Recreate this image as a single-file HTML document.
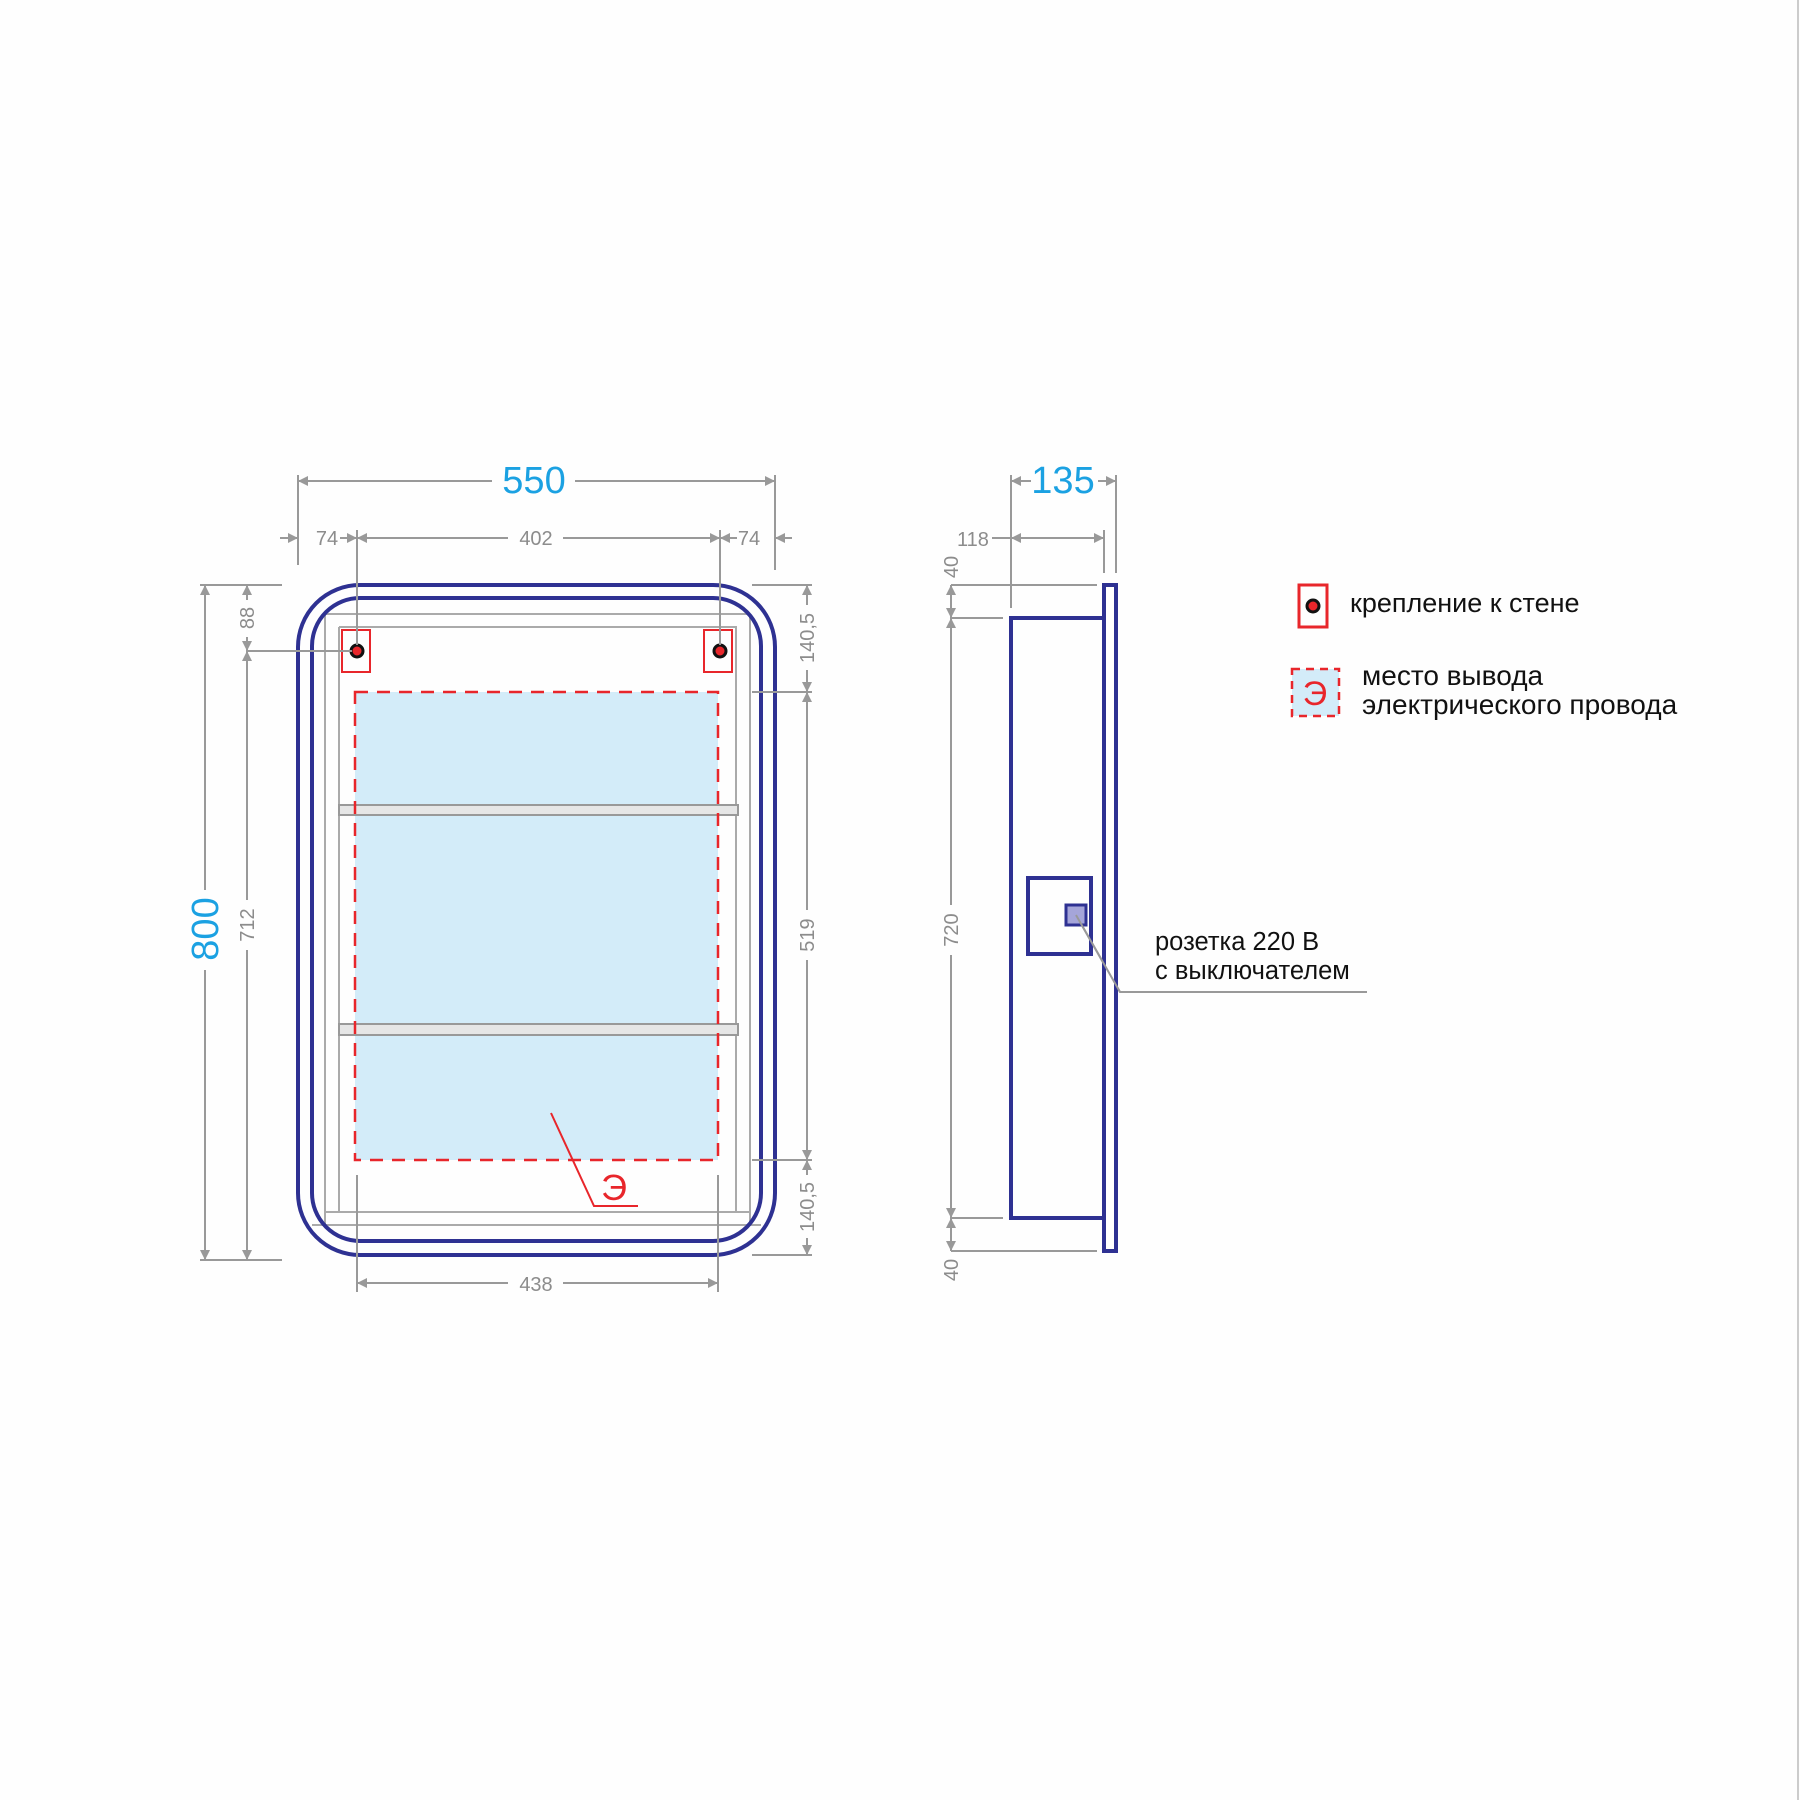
<!DOCTYPE html>
<html><head><meta charset="utf-8"><style>
html,body{margin:0;padding:0;background:#fff}
svg{display:block}
text{font-family:"Liberation Sans",sans-serif}
</style></head><body>
<svg width="1800" height="1800" viewBox="0 0 1800 1800" xmlns="http://www.w3.org/2000/svg">
<defs>
<marker id="a" viewBox="0 0 10 10" refX="10" refY="5" markerWidth="16" markerHeight="10" markerUnits="userSpaceOnUse" orient="auto-start-reverse"><path d="M0,0L10,5L0,10z" fill="#999"/></marker>
</defs>
<rect width="1800" height="1800" fill="#fefefe"/>
<line x1="1798" y1="0" x2="1798" y2="1800" stroke="#ccc" stroke-width="2"/>

<rect x="355" y="692" width="363" height="468" fill="#d3ecf9"/>
<g stroke="#aaa" stroke-width="2" fill="none">
<line x1="325" y1="614" x2="750" y2="614"/>
<line x1="339" y1="627" x2="737" y2="627"/>
<line x1="325" y1="1212" x2="750" y2="1212"/>
<line x1="312" y1="1225" x2="761" y2="1225"/>
<line x1="325" y1="614" x2="325" y2="1225"/>
<line x1="339" y1="627" x2="339" y2="1212"/>
<line x1="736" y1="627" x2="736" y2="1212"/>
<line x1="750" y1="614" x2="750" y2="1225"/>
</g>
<rect x="339" y="805" width="399" height="10" fill="#e6e6e6" stroke="#999" stroke-width="2"/>
<rect x="339" y="1024" width="399" height="11" fill="#e6e6e6" stroke="#999" stroke-width="2"/>
<rect x="355" y="692" width="363" height="468" fill="none" stroke="#e8262b" stroke-width="2.5" stroke-dasharray="13 9"/>
<rect x="298" y="585" width="477" height="670" rx="62" fill="none" stroke="#2e3192" stroke-width="4"/>
<rect x="312" y="598" width="449" height="643" rx="48" fill="none" stroke="#2e3192" stroke-width="4"/>

<rect x="342" y="630" width="28" height="42" fill="none" stroke="#e8262b" stroke-width="2"/>
<rect x="704" y="630" width="28" height="42" fill="none" stroke="#e8262b" stroke-width="2"/>
<circle cx="357" cy="651" r="6" fill="#e8262b" stroke="#111" stroke-width="3"/>
<circle cx="720" cy="651" r="6" fill="#e8262b" stroke="#111" stroke-width="3"/>

<polyline points="551,1113 594,1206 638,1206" fill="none" stroke="#e8262b" stroke-width="2"/>
<text x="614" y="1200" font-size="36" fill="#e8262b" text-anchor="middle">Э</text>

<g stroke="#999" stroke-width="2" fill="none">
<line x1="298" y1="475" x2="298" y2="565"/>
<line x1="775" y1="475" x2="775" y2="570"/>
<line x1="298" y1="481" x2="492" y2="481" marker-start="url(#a)"/>
<line x1="575" y1="481" x2="775" y2="481" marker-end="url(#a)"/>
<line x1="357" y1="530" x2="357" y2="645"/>
<line x1="720" y1="530" x2="720" y2="645"/>
<line x1="280" y1="538" x2="298" y2="538" marker-end="url(#a)"/>
<line x1="340" y1="538" x2="357" y2="538" marker-end="url(#a)"/>
<line x1="357" y1="538" x2="508" y2="538" marker-start="url(#a)"/>
<line x1="563" y1="538" x2="720" y2="538" marker-end="url(#a)"/>
<line x1="737" y1="538" x2="720" y2="538" marker-end="url(#a)"/>
<line x1="792" y1="538" x2="775" y2="538" marker-end="url(#a)"/>
<line x1="200" y1="585" x2="282" y2="585"/>
<line x1="200" y1="1260" x2="282" y2="1260"/>
<line x1="205" y1="585" x2="205" y2="890" marker-start="url(#a)"/>
<line x1="205" y1="970" x2="205" y2="1260" marker-end="url(#a)"/>
<line x1="247" y1="585" x2="247" y2="600" marker-start="url(#a)"/>
<line x1="247" y1="637" x2="247" y2="651" marker-end="url(#a)"/>
<line x1="247" y1="651" x2="352" y2="651"/>
<line x1="247" y1="651" x2="247" y2="900" marker-start="url(#a)"/>
<line x1="247" y1="950" x2="247" y2="1260" marker-end="url(#a)"/>
<line x1="752" y1="585" x2="812" y2="585"/>
<line x1="752" y1="692" x2="812" y2="692"/>
<line x1="752" y1="1160" x2="812" y2="1160"/>
<line x1="752" y1="1255" x2="812" y2="1255"/>
<line x1="807" y1="585" x2="807" y2="605" marker-start="url(#a)"/>
<line x1="807" y1="670" x2="807" y2="692" marker-end="url(#a)"/>
<line x1="807" y1="692" x2="807" y2="910" marker-start="url(#a)"/>
<line x1="807" y1="960" x2="807" y2="1160" marker-end="url(#a)"/>
<line x1="807" y1="1160" x2="807" y2="1175" marker-start="url(#a)"/>
<line x1="807" y1="1238" x2="807" y2="1255" marker-end="url(#a)"/>
<line x1="357" y1="1175" x2="357" y2="1292"/>
<line x1="718" y1="1175" x2="718" y2="1292"/>
<line x1="357" y1="1283" x2="508" y2="1283" marker-start="url(#a)"/>
<line x1="563" y1="1283" x2="718" y2="1283" marker-end="url(#a)"/>

<line x1="1011" y1="475" x2="1011" y2="608"/>
<line x1="1116" y1="475" x2="1116" y2="573"/>
<line x1="1011" y1="481" x2="1031" y2="481" marker-start="url(#a)"/>
<line x1="1098" y1="481" x2="1116" y2="481" marker-end="url(#a)"/>
<line x1="1104" y1="530" x2="1104" y2="573"/>
<line x1="992" y1="538" x2="1011" y2="538"/>
<line x1="1011" y1="538" x2="1104" y2="538" marker-start="url(#a)" marker-end="url(#a)"/>
<line x1="951" y1="585" x2="1097" y2="585"/>
<line x1="951" y1="618" x2="1003" y2="618"/>
<line x1="951" y1="1218" x2="1003" y2="1218"/>
<line x1="951" y1="1251" x2="1097" y2="1251"/>
<line x1="951" y1="585" x2="951" y2="618" marker-start="url(#a)" marker-end="url(#a)"/>
<line x1="951" y1="618" x2="951" y2="905" marker-start="url(#a)"/>
<line x1="951" y1="955" x2="951" y2="1218" marker-end="url(#a)"/>
<line x1="951" y1="1218" x2="951" y2="1251" marker-start="url(#a)" marker-end="url(#a)"/>
<polyline points="1076,915 1120,992 1367,992"/>
</g>

<g font-size="20" fill="#8c8c8c" text-anchor="middle">
<text x="327" y="545">74</text>
<text x="536" y="545">402</text>
<text x="749" y="545">74</text>
<text x="536" y="1291">438</text>
<text x="973" y="546">118</text>
<text transform="translate(254,618) rotate(-90)">88</text>
<text transform="translate(254,925) rotate(-90)">712</text>
<text transform="translate(814,638) rotate(-90)">140,5</text>
<text transform="translate(814,935) rotate(-90)">519</text>
<text transform="translate(814,1207) rotate(-90)">140,5</text>
<text transform="translate(958,567) rotate(-90)">40</text>
<text transform="translate(958,930) rotate(-90)">720</text>
<text transform="translate(958,1270) rotate(-90)">40</text>
</g>
<g font-size="38" fill="#1ba1e2" text-anchor="middle">
<text x="534" y="493">550</text>
<text x="1063" y="493">135</text>
<text transform="translate(218,929) rotate(-90)">800</text>
</g>

<rect x="1104" y="585" width="12" height="666" fill="#fff" stroke="#2e3192" stroke-width="4"/>
<rect x="1011" y="618" width="93" height="600" fill="none" stroke="#2e3192" stroke-width="4"/>
<rect x="1028" y="878" width="63" height="76" fill="none" stroke="#2e3192" stroke-width="4"/>
<rect x="1066" y="905" width="20" height="20" fill="#a5a5d9" stroke="#2e3192" stroke-width="3"/>
<line x1="1076" y1="915" x2="1120" y2="992" stroke="#999" stroke-width="2"/>
<text x="1155" y="950" font-size="25.5" fill="#111">розетка 220 В</text>
<text x="1155" y="979" font-size="25.5" fill="#111">с выключателем</text>

<rect x="1299" y="585" width="28" height="42" fill="none" stroke="#e8262b" stroke-width="3"/>
<circle cx="1313" cy="606" r="6" fill="#e8262b" stroke="#111" stroke-width="3"/>
<text x="1350" y="612" font-size="27" fill="#111">крепление к стене</text>
<rect x="1292" y="669" width="47" height="47" fill="#d3ecf9" stroke="#e8262b" stroke-width="2.5" stroke-dasharray="8 6"/>
<text x="1315" y="705" font-size="34" fill="#e8262b" text-anchor="middle">Э</text>
<text x="1362" y="685" font-size="28" fill="#111">место вывода</text>
<text x="1362" y="714" font-size="28" fill="#111">электрического провода</text>
</svg>
</body></html>
